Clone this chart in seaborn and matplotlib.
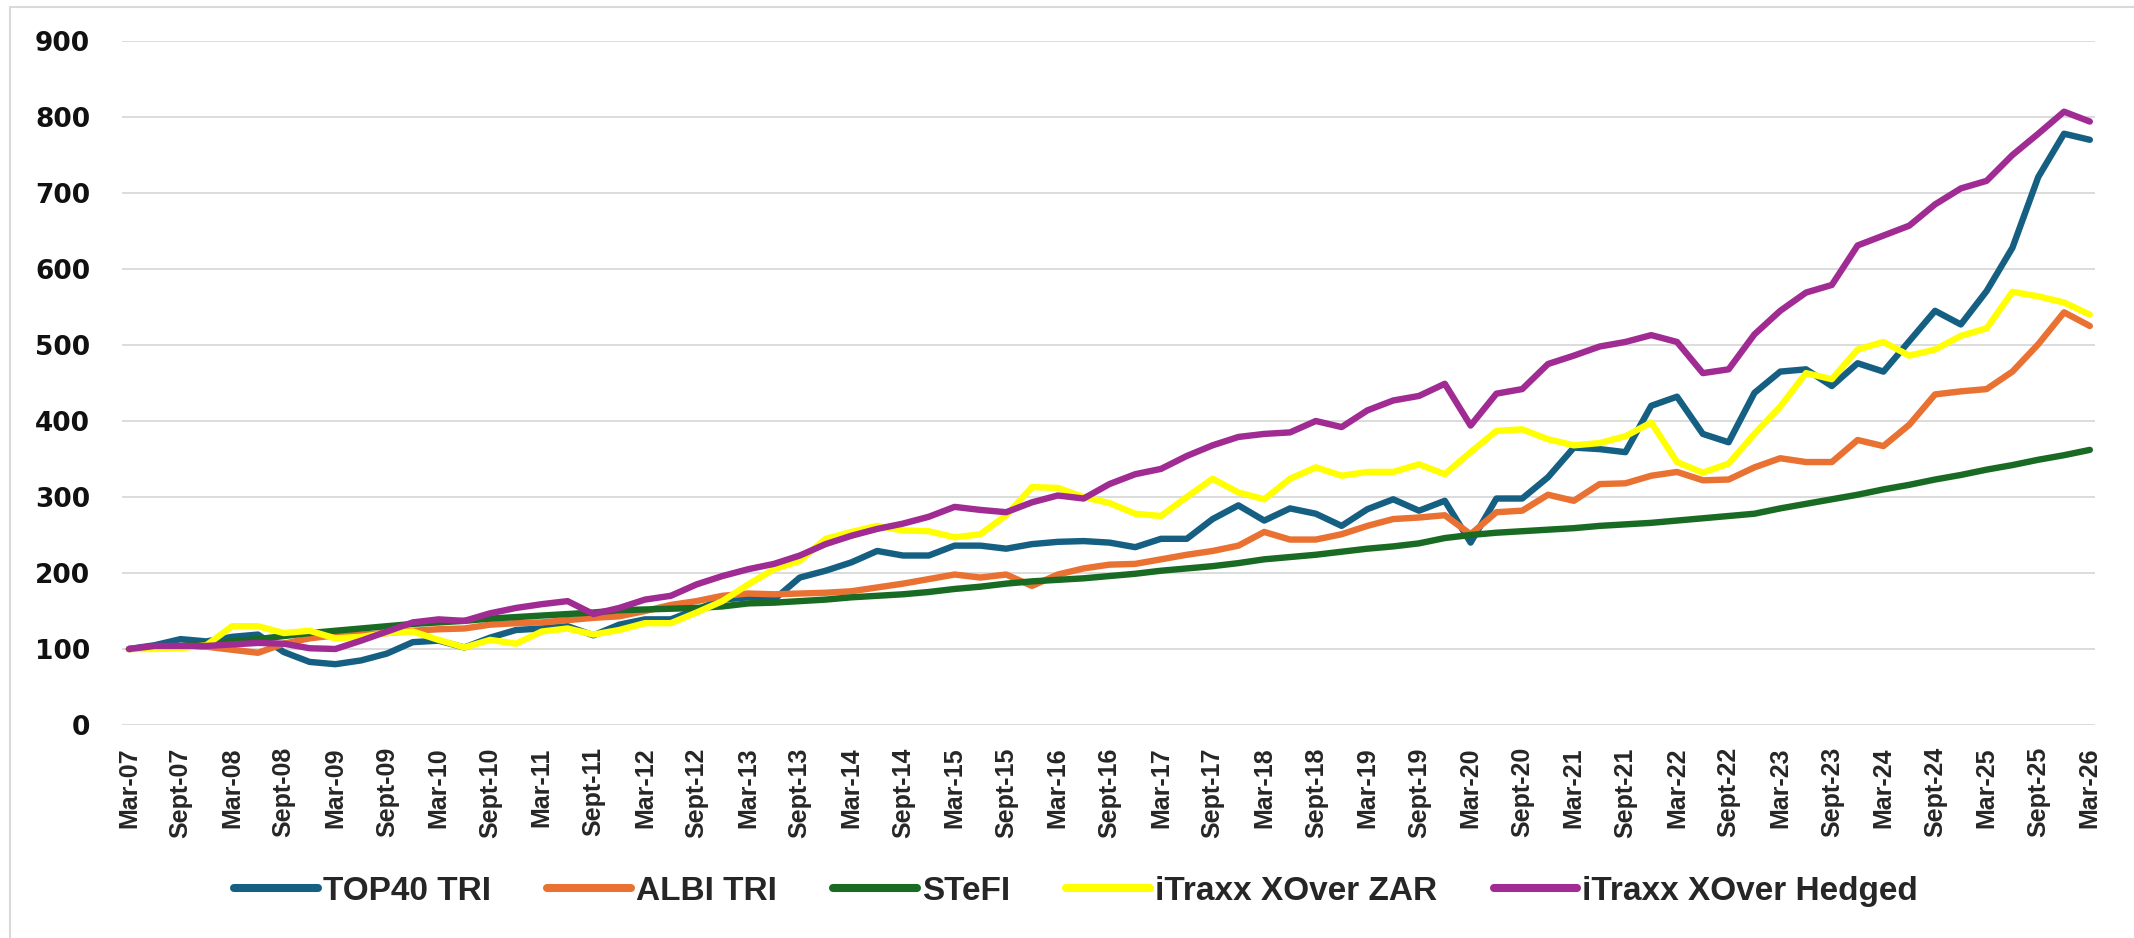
import pandas as pd
import matplotlib
matplotlib.use("Agg")
import matplotlib.pyplot as plt
from matplotlib.lines import Line2D
import seaborn as sns

# quarterly index values, Mar-07 .. Mar-26 (77 quarters)
top40 = [100, 105, 113, 110, 116, 119, 96, 83, 80, 85, 94, 109, 111, 102, 115, 125,
         127, 130, 118, 132, 139, 139, 152, 165, 168, 165, 194, 203, 214, 229, 223, 223,
         236, 236, 232, 238, 241, 242, 240, 234, 245, 245, 271, 289, 269, 285, 278, 262,
         284, 297, 282, 295, 240, 298, 298, 326, 365, 363, 359, 420, 432, 383, 372, 437,
         465, 468, 446, 476, 465, 505, 545, 527, 571, 628, 721, 778, 770]
albi = [100, 102, 103, 103, 99, 95, 107, 114, 118, 119, 121, 124, 126, 127, 132, 134,
        135, 138, 141, 143, 150, 158, 163, 170, 173, 172, 173, 174, 176, 181, 186, 192,
        198, 194, 198, 183, 198, 206, 211, 212, 218, 224, 229, 236, 254, 244, 244, 251,
        262, 271, 273, 276, 251, 280, 282, 303, 295, 317, 318, 328, 333, 322, 323, 339,
        351, 346, 346, 375, 367, 395, 435, 439, 442, 465, 501, 543, 525]
stefi = [100, 102, 104, 107, 110, 113, 117, 121, 124, 127, 130, 133, 135, 137, 140, 142,
         144, 146, 148, 151, 152, 153, 154, 156, 160, 161, 163, 165, 168, 170, 172, 175,
         179, 182, 186, 189, 191, 193, 196, 199, 203, 206, 209, 213, 218, 221, 224, 228,
         232, 235, 239, 246, 250, 253, 255, 257, 259, 262, 264, 266, 269, 272, 275, 278,
         285, 291, 297, 303, 310, 316, 323, 329, 336, 342, 349, 355, 362]
itraxx_zar = [100, 100, 101, 105, 130, 130, 121, 124, 114, 116, 121, 123, 112, 102, 112, 107,
              123, 127, 119, 125, 134, 134, 148, 163, 185, 205, 216, 245, 254, 262, 256, 255,
              247, 251, 276, 313, 312, 300, 292, 278, 275, 300, 324, 306, 297, 324, 339, 328,
              333, 333, 343, 330, 359, 387, 389, 376, 368, 371, 380, 398, 346, 332, 344, 383,
              419, 463, 455, 494, 504, 486, 494, 512, 522, 570, 564, 556, 540]
itraxx_hedged = [100, 104, 104, 104, 106, 108, 107, 101, 100, 111, 123, 135, 139, 137, 147, 154,
                 159, 163, 146, 154, 165, 170, 185, 196, 205, 212, 223, 238, 249, 258, 265, 274,
                 287, 283, 280, 293, 302, 298, 317, 330, 337, 354, 368, 379, 383, 385, 400, 392,
                 414, 427, 433, 449, 394, 436, 442, 475, 486, 498, 504, 513, 504, 463, 468, 514,
                 545, 569, 579, 631, 644, 657, 685, 706, 716, 750, 778, 807, 794]

series_names = ["TOP40 TRI", "ALBI TRI", "STeFI", "iTraxx XOver ZAR", "iTraxx XOver Hedged"]
colors = ["#156082", "#E97132", "#196B24", "#FFFF00", "#A02B93"]

# tick labels every 6 months
years = range(7, 27)
tick_labels = []
for y in years:
    tick_labels.append("Mar-%02d" % y)
    if y < 26:
        tick_labels.append("Sept-%02d" % y)

n = len(top40)
df = pd.DataFrame({"q": range(n), "TOP40 TRI": top40, "ALBI TRI": albi, "STeFI": stefi,
                   "iTraxx XOver ZAR": itraxx_zar, "iTraxx XOver Hedged": itraxx_hedged})
long_df = df.melt(id_vars="q", var_name="series", value_name="value")

sns.set_style("white")
plt.rcParams["font.family"] = ["DejaVu Sans"]

W, H = 2134, 938
fig = plt.figure(figsize=(W / 100, H / 100), dpi=100)
ax = fig.add_axes([122 / W, 1 - 725 / H, (2095 - 122) / W, (725 - 41) / H])

sns.lineplot(data=long_df, x="q", y="value", hue="series", hue_order=series_names,
             palette=dict(zip(series_names, colors)), linewidth=4.6, ax=ax, sort=False)

ax.set_xlim(-0.27, 76.2)
ax.set_ylim(0, 900)
ax.set_yticks(range(0, 901, 100))
ax.set_xticks(range(0, n, 2))
ax.set_xticklabels(tick_labels, rotation=90, fontfamily="Liberation Sans",
                   fontweight="bold", fontsize=18, va="top")
for t in ax.get_yticklabels():
    t.set_fontweight("bold")
    t.set_fontsize(19)
    t.set_color("#111111")
ax.tick_params(axis="y", length=0, pad=23)
ax.tick_params(axis="x", length=0, pad=16)
ax.yaxis.grid(True, color="#D9D9D9", linewidth=1.3)
ax.xaxis.grid(False)
ax.set_axisbelow(True)
for s in ax.spines.values():
    s.set_visible(False)
ax.set_xlabel("")
ax.set_ylabel("")

# legend at the bottom
handles, labels = ax.get_legend_handles_labels()
ax.get_legend().remove()
leg = fig.legend(handles, labels, loc="center", bbox_to_anchor=(1076 / W, 0.05), ncol=5,
                 frameon=False, prop=dict(family="Liberation Sans", weight="bold", size=24),
                 handlelength=2.5, handletextpad=0.15, columnspacing=1.7)
for h in leg.get_lines():
    h.set_linewidth(5.8)
    h.set_solid_capstyle("round")

# chart-area frame (top and left edges visible)
fig.add_artist(Line2D([10 / W, 10 / W], [0, 1 - 7 / H], transform=fig.transFigure,
                      color="#D9D9D9", linewidth=1.5))
fig.add_artist(Line2D([10 / W, 1], [1 - 7 / H, 1 - 7 / H], transform=fig.transFigure,
                      color="#D9D9D9", linewidth=1.5))

fig.savefig("out.png", dpi=100)
